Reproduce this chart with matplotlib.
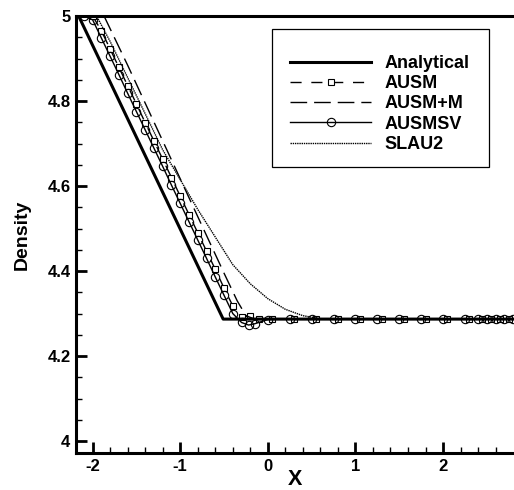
import matplotlib.pyplot as plt
from matplotlib.patches import Rectangle

plt.rcParams['font.family'] = ['Liberation Sans', 'DejaVu Sans']
plt.rcParams['font.weight'] = 'bold'
plt.rcParams['axes.unicode_minus'] = False

# Analytical solution
x_exact = [-2.2, -2.16, -0.51, 2.9]
y_exact = [5.0, 5.0, 4.287, 4.287]

# AUSM
x_ausm = [-2.0, -1.9, -1.8, -1.7, -1.6, -1.5, -1.4, -1.3, -1.2, -1.1, -1.0, -0.9,
          -0.8, -0.7, -0.6, -0.5, -0.4, -0.3, -0.2, -0.1, 0.05, 0.3, 0.55, 0.8,
          1.05, 1.3, 1.55, 1.8, 2.05, 2.3, 2.45, 2.55, 2.65, 2.75, 2.85]
y_ausm = [5.0, 4.965, 4.922, 4.879, 4.836, 4.793, 4.749, 4.706, 4.663, 4.620,
          4.576, 4.533, 4.490, 4.447, 4.404, 4.360, 4.318, 4.292, 4.295, 4.288,
          4.287, 4.287, 4.287, 4.287, 4.287, 4.287, 4.287, 4.287, 4.287, 4.287,
          4.287, 4.287, 4.287, 4.287, 4.287]

# AUSM+M
x_ausmm = [-1.87, -1.6, -1.2, -0.8, -0.5, -0.35, -0.25, -0.15, 2.9]
y_ausmm = [5.0, 4.884, 4.706, 4.528, 4.395, 4.33, 4.295, 4.287, 4.287]

# AUSMSV
x_sv = [-2.1, -2.0, -1.9, -1.8, -1.7, -1.6, -1.5, -1.4, -1.3, -1.2, -1.1, -1.0,
        -0.9, -0.8, -0.7, -0.6, -0.5, -0.4, -0.3, -0.22, -0.15, 0.0, 0.25, 0.5,
        0.75, 1.0, 1.25, 1.5, 1.75, 2.0, 2.25, 2.4, 2.5, 2.6, 2.7, 2.8]
y_sv = [5.0, 4.991, 4.948, 4.905, 4.862, 4.818, 4.775, 4.732, 4.689, 4.646,
        4.602, 4.559, 4.516, 4.473, 4.430, 4.386, 4.343, 4.30, 4.279, 4.273,
        4.276, 4.286, 4.287, 4.287, 4.287, 4.287, 4.287, 4.287, 4.287, 4.287,
        4.287, 4.287, 4.287, 4.287, 4.287, 4.287]

# SLAU2
x_slau = [-1.95, -1.8, -1.6, -1.4, -1.2, -1.0, -0.8, -0.6, -0.4, -0.2, 0.0, 0.2,
          0.4, 0.6, 0.8, 2.9]
y_slau = [4.998, 4.94, 4.855, 4.77, 4.685, 4.615, 4.545, 4.48, 4.415, 4.37,
          4.335, 4.31, 4.295, 4.288, 4.287, 4.287]

fig = plt.figure(figsize=(5.14, 4.90), dpi=100)
ax = fig.add_axes([76 / 514, 37 / 490, 438 / 514, 437 / 490])

ax.plot(x_exact, y_exact, color='black', lw=2.2, label='Analytical', zorder=5)
ax.plot(x_ausm, y_ausm, color='black', lw=1.0, dashes=(8, 7), marker='s',
        markersize=4.5, mfc='white', mec='black', mew=0.8, label='AUSM')
ax.plot(x_ausmm, y_ausmm, color='black', lw=1.0, dashes=(12, 5), label='AUSM+M')
ax.plot(x_sv, y_sv, color='black', lw=1.0, marker='o', markersize=6,
        mfc='none', mec='black', mew=0.8, label='AUSMSV')
ax.plot(x_slau, y_slau, color='black', lw=1.0, dashes=(1, 0.6), label='SLAU2')

ax.set_xlim(-2.19, 2.81)
ax.set_ylim(3.972, 5.0)
ax.set_xticks([-2, -1, 0, 1, 2])
ax.set_yticks([4.0, 4.2, 4.4, 4.6, 4.8, 5.0])
ax.set_yticklabels(['4', '4.2', '4.4', '4.6', '4.8', '5'])
ax.set_xticks([v / 5 for v in range(-10, 14) if v % 5 != 0], minor=True)
ax.set_yticks([4.05, 4.1, 4.15, 4.25, 4.3, 4.35, 4.45, 4.5, 4.55, 4.65, 4.7,
               4.75, 4.85, 4.9, 4.95], minor=True)
ax.tick_params(which='major', direction='in', length=8, width=2, labelsize=12,
               pad=4)
ax.tick_params(which='minor', direction='in', length=4, width=1)
for s in ['left', 'bottom', 'top']:
    ax.spines[s].set_linewidth(2.2)
ax.spines['right'].set_visible(False)

ax.set_xlabel('X', fontsize=15.5, fontweight='bold', labelpad=-3)
ax.set_ylabel('Density', fontsize=14, fontweight='bold', labelpad=12)

fig.patches.append(Rectangle((272 / 514, 1 - 167 / 490), 217 / 514, 138 / 490,
                             transform=fig.transFigure, fill=False,
                             edgecolor='black', lw=0.9))
leg = ax.legend(loc='upper left', bbox_to_anchor=(290 / 514, 1 - 55 / 490),
                bbox_transform=fig.transFigure, frameon=False, fontsize=13,
                handlelength=4.5, handletextpad=0.75, labelspacing=0.18,
                borderpad=0, borderaxespad=0, numpoints=1)

fig.savefig('out.png', dpi=100)
